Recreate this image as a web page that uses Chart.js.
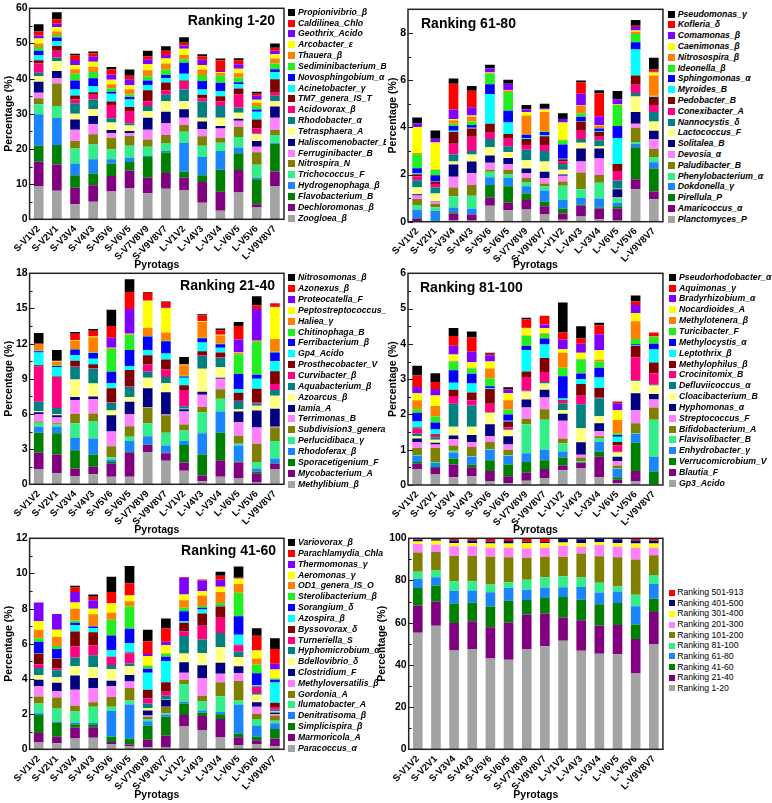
<!DOCTYPE html>
<html><head><meta charset="utf-8">
<script src="https://cdn.jsdelivr.net/npm/chart.js@4.4.1/dist/chart.umd.min.js"></script>
<style>
html,body{margin:0;padding:0;background:#fff;}
#wrap{position:relative;width:772px;height:803px;overflow:hidden;font-family:"Liberation Sans",Arial,sans-serif;}
.pc{position:absolute;}
.lg{position:absolute;overflow:hidden;color:#000;white-space:nowrap;z-index:5;}
.lg .it{position:absolute;left:0;height:11px;}
.lg .sw{position:absolute;left:0;}
.lg .tx{position:absolute;top:0;line-height:11px;}
</style></head><body><div id="wrap"></div>
<script>
const categories = ['S-V1V2','S-V2V1','S-V3V4','S-V4V3','S-V5V6','S-V6V5','S-V7V8V9','S-V9V8V7','L-V1V2','L-V4V3','L-V3V4','L-V6V5','L-V5V6','L-V9V8V7'];

// ---- Ranking 1-20 ----
const p1Names = ['Zoogloea_β','Dechloromonas_β','Flavobacterium_B','Hydrogenophaga_β','Trichococcus_F','Nitrospira_N','Ferruginibacter_B','Haliscomenobacter_B','Tetrasphaera_A','Rhodobacter_α','Acidovorax_β','TM7_genera_IS_T','Acinetobacter_γ','Novosphingobium_α','Sediminibacterium_B','Thauera_β','Arcobacter_ε','Geothrix_Acido','Caldilinea_Chlo','Propionivibrio_β'];
const zoogloea = [9.5, 8.1, 4.3, 5.0, 7.9, 8.8, 7.4, 8.7, 8.2, 4.7, 2.4, 7.6, 3.5, 9.5];
const dechloromonas = [6.9, 7.5, 4.7, 4.7, 4.4, 5.1, 4.4, 4.5, 3.6, 5.9, 5.4, 6.4, 0.8, 4.1];
const flavobacterium = [4.5, 5.5, 3.5, 3.3, 3.6, 2.4, 5.9, 5.8, 1.7, 1.9, 6.3, 4.8, 7.1, 7.9];
const hydrogenophaga = [9.0, 7.7, 3.4, 4.1, 1.2, 1.2, 0.3, 0.4, 8.3, 5.2, 5.3, 1.6, 0.4, 0.3];
const trichococcus = [2.8, 3.4, 4.2, 4.2, 2.8, 3.4, 2.6, 2.3, 3.1, 3.2, 2.4, 3.0, 3.7, 2.2];
const nitrospira = [1.7, 6.4, 2.2, 2.9, 3.3, 2.8, 2.1, 2.3, 1.9, 2.7, 1.4, 2.9, 3.6, 1.5];
const ferruginibacter = [1.6, 1.5, 3.2, 2.8, 1.3, 0.8, 2.8, 3.4, 2.1, 2.0, 2.6, 1.7, 1.5, 3.4];
const haliscomenobacter = [3.1, 2.1, 2.9, 2.4, 0.9, 0.6, 3.4, 3.2, 2.4, 2.2, 0.7, 0.6, 1.7, 3.2];
const tetrasphaera = [1.6, 2.8, 1.6, 1.9, 2.1, 1.6, 1.9, 3.0, 2.3, 1.1, 2.4, 1.7, 1.9, 1.5];
const rhodobacter = [1.0, 1.0, 3.0, 2.8, 1.2, 0.6, 1.4, 1.8, 3.3, 4.6, 3.3, 1.5, 0.2, 1.5];
const acidovorax = [2.6, 1.9, 1.1, 1.3, 3.8, 3.5, 1.4, 1.3, 2.2, 0.9, 1.4, 3.7, 1.5, 0.9];
const tm7 = [0.9, 1.4, 1.1, 0.7, 1.0, 1.1, 3.1, 2.2, 0.4, 1.0, 1.4, 1.7, 2.5, 3.8];
const acinetobacter = [1.5, 1.4, 1.7, 1.8, 2.2, 2.2, 1.5, 1.2, 1.9, 1.5, 1.5, 1.2, 2.2, 2.1];
const novosphingobium = [1.2, 1.0, 2.6, 2.2, 0.6, 0.7, 1.3, 0.9, 3.1, 2.4, 2.3, 0.6, 0.6, 0.8];
const sediminibacterium = [1.1, 0.7, 1.9, 1.8, 1.0, 0.7, 1.2, 1.7, 1.0, 1.7, 2.0, 1.3, 1.0, 1.6];
const thauera = [1.0, 1.0, 1.3, 1.4, 1.1, 1.5, 1.7, 1.6, 1.2, 1.6, 0.8, 1.2, 0.9, 1.4];
const arcobacter = [1.4, 1.3, 1.2, 1.5, 1.3, 1.1, 1.7, 1.4, 1.8, 1.3, 0.3, 1.3, 0.9, 1.2];
const geothrix = [0.9, 1.0, 1.4, 1.4, 1.5, 1.7, 1.4, 1.0, 0.9, 1.5, 0.3, 1.3, 1.1, 1.0];
const caldilinea = [1.1, 1.2, 1.3, 1.0, 1.4, 1.0, 0.9, 1.2, 0.8, 1.0, 3.0, 1.1, 0.6, 0.9];
const propionivibrio = [2.1, 2.0, 0.5, 0.5, 0.7, 1.8, 1.5, 1.3, 1.6, 0.5, 0.5, 0.6, 0.6, 1.2];

// ---- Ranking 61-80 ----
const p2Names = ['Planctomyces_P','Amaricoccus_α','Pirellula_P','Dokdonella_γ','Phenylobacterium_α','Paludibacter_B','Devosia_α','Solitalea_B','Lactococcus_F','Nannocystis_δ','Conexibacter_A','Pedobacter_B','Myroides_B','Sphingomonas_α','Ideonella_β','Nitrosospira_β','Caenimonas_β','Comamonas_β','Kofleria_δ','Pseudomonas_γ'];
const planctomyces = [0.02, 0, 0.05, 0.05, 0.68, 0.5, 0.52, 0.3, 0.08, 0.22, 0.1, 0.05, 1.38, 0.95];
const amaricoccus = [0.12, 0.02, 0.3, 0.25, 0.34, 0.3, 0.4, 0.35, 0.27, 0.46, 0.45, 0.5, 0.42, 0.33];
const pirellula = [0.02, 0.02, 0.05, 0.02, 0.53, 0.7, 0.28, 0.2, 0.2, 0.04, 0.05, 0.1, 1.35, 0.97];
const dokdonella = [0.35, 0.42, 0.2, 0.23, 0.33, 0.35, 0.3, 0.47, 0.37, 0.28, 0.38, 0.15, 0.15, 0.27];
const phenylobacterium = [0.2, 0.15, 0.48, 0.55, 0.24, 0.15, 0.18, 0.18, 0.6, 0.38, 0.67, 0.2, 0.08, 0.2];
const paludibacter = [0.25, 0.15, 0.37, 0.45, 0.08, 0.2, 0.17, 0.12, 0.18, 0.7, 0.33, 0.02, 0.6, 0.36];
const devosia = [0.15, 0.1, 0.45, 0.5, 0.3, 0.25, 0.2, 0.23, 0.25, 0.47, 0.7, 0.03, 0.17, 0.42];
const solitalea = [0.05, 0.02, 0.52, 0.5, 0.3, 0.25, 0.2, 0.27, 0.05, 0.55, 0.42, 0.33, 0.5, 0.35];
const lactococcus = [0.3, 0.32, 0.13, 0.3, 0.35, 0.25, 0.35, 0.43, 0.2, 0.25, 0.1, 0.02, 0.65, 0.4];
const nannocystis = [0.3, 0.25, 0.3, 0.15, 0.35, 0.25, 0.45, 0.45, 0.25, 0.15, 0.25, 0.35, 0.15, 0.4];
const conexibacter = [0.15, 0.15, 0.45, 0.6, 0.3, 0.35, 0.2, 0.25, 0.1, 0.35, 0.15, 0.4, 0.35, 0.3];
const pedobacter = [0.1, 0.1, 0.5, 0.35, 0.35, 0.17, 0.25, 0.37, 0.1, 0.4, 0.2, 0.3, 0.4, 0.33];
const myroides = [0.05, 0.02, 0.05, 0.03, 1.25, 0.48, 0.05, 0.05, 0.02, 0.02, 0.02, 1.1, 1.1, 0.02];
const sphingomonas = [0.2, 0.25, 0.2, 0.12, 0.42, 0.5, 0.13, 0.13, 0.6, 0.18, 0.13, 0.5, 0.3, 0.02];
const ideonella = [0.6, 0.22, 0.1, 0.15, 0.46, 0.8, 0.02, 0.02, 0.18, 0.15, 0.02, 0.9, 0.35, 0.02];
const nitrosospira = [0.05, 0.02, 0.15, 0.2, 0.02, 0.05, 0.8, 0.83, 0.02, 0.3, 0.1, 0.02, 0.1, 0.85];
const caenimonas = [1.1, 1.15, 0.05, 0.05, 0.02, 0.02, 0.15, 0.1, 0.73, 0.02, 0.02, 0.02, 0.05, 0.13];
const comamonas = [0.15, 0.15, 0.4, 0.35, 0.18, 0.28, 0.1, 0.07, 0.15, 0.5, 0.38, 0.2, 0.15, 0.03];
const kofleria = [0, 0, 1.1, 0.7, 0, 0, 0.02, 0, 0, 0.48, 0.97, 0, 0.05, 0.1];
const pseudomonas = [0.25, 0.35, 0.22, 0.2, 0.15, 0.17, 0.18, 0.18, 0.25, 0.08, 0.13, 0.35, 0.25, 0.5];

// ---- Ranking 21-40 ----
const p3Names = ['Methylibium_β','Mycobacterium_A','Sporacetigenium_F','Rhodoferax_β','Perlucidibaca_γ','Subdivision3_genera_IS_V','Terrimonas_B','Iamia_A','Azoarcus_β','Aquabacterium_β','Curvibacter_β','Prosthecobacter_V','Gp4_Acido','Ferribacterium_β','Chitinophaga_B','Haliea_γ','Peptostreptococcus_F','Proteocatella_F','Azonexus_β','Nitrosomonas_β'];
const methylibium = [1.3, 0.95, 0.7, 0.85, 0.65, 0.65, 2.75, 2.0, 1.15, 0.25, 0.65, 0.5, 0.15, 1.3];
const mycobacterium = [1.4, 1.6, 0.65, 0.65, 1.1, 2.05, 0.6, 0.65, 0.7, 0.5, 1.4, 1.35, 0.8, 0.45];
const sporacetigenium = [1.7, 1.8, 1.55, 1.05, 0.15, 0.05, 0.05, 0.05, 1.5, 1.8, 2.35, 0.1, 0.15, 0.05];
const rhodoferax = [0.5, 0.55, 1.05, 1.35, 0.2, 0.95, 0.7, 0.6, 0.35, 1.8, 1.8, 1.35, 0.25, 0.4];
const perlucidibaca = [0.35, 0.2, 1.25, 1.5, 0.2, 0.35, 1.1, 1.1, 0.9, 1.8, 1.1, 0.15, 0.55, 1.5];
const subdivision3 = [0.1, 0.1, 0.8, 0.65, 0.95, 0.9, 1.35, 1.5, 0.5, 0.45, 0.8, 0.7, 1.55, 1.15];
const terrimonas = [0.65, 0.5, 1.2, 1.2, 1.25, 1.05, 0.05, 0.05, 1.1, 1.05, 0.9, 1.15, 1.4, 0.05];
const iamia = [0.15, 0.2, 0.25, 0.25, 1.4, 1.05, 1.6, 1.9, 0.2, 0.25, 0.1, 0.9, 1.45, 1.55];
const azoarcus = [0.1, 0.1, 1.5, 1.1, 0.4, 0.4, 0.9, 0.8, 0.05, 1.95, 0.9, 0.2, 0.4, 1.1];
const aquabacterium = [0.8, 0.5, 1.05, 1.25, 0.65, 0.85, 0.5, 0.5, 0.2, 1.1, 0.8, 0.7, 0.2, 0.5];
const curvibacter = [3.0, 2.6, 0.05, 0.05, 0.05, 0.05, 0.65, 0.65, 1.4, 0.05, 0.05, 0.1, 0.05, 0.5];
const prosthecobacter = [0.1, 0.1, 0.5, 0.35, 1.2, 1.4, 0.75, 0.85, 0.4, 0.35, 0.4, 0.6, 1.2, 1.1];
const gp4Acido = [1.1, 0.8, 0.45, 0.45, 0.45, 0.35, 0.45, 0.5, 0.65, 0.75, 0.4, 0.3, 0.85, 0.85];
const ferribacterium = [0.1, 0.1, 0.5, 0.5, 0.95, 1.35, 1.15, 1.05, 0.1, 0.35, 0.3, 1.3, 0.35, 0.75];
const chitinophaga = [0.05, 0.05, 0.05, 0.05, 1.95, 1.3, 0.05, 0.05, 0.05, 0.05, 0.05, 1.7, 2.8, 0.05];
const haliea = [0.6, 0.3, 0.7, 1.3, 0.05, 0.05, 0.7, 0.7, 0.9, 1.35, 0.7, 0.1, 0.05, 1.1];
const peptostreptococcus = [0, 0.05, 0.05, 0.05, 0.05, 0.05, 2.3, 2.1, 0.05, 0.05, 0.05, 0.05, 0.05, 2.7];
const proteocatella = [0, 0, 0, 0, 0.85, 2.1, 0.05, 0.05, 0, 0, 0, 1.1, 2.7, 0.05];
const azonexus = [0, 0.05, 0.55, 0.5, 1.0, 1.45, 0.65, 0.45, 0.05, 0.5, 0.4, 1.15, 0.3, 0.3];
const nitrosomonas = [0.9, 0.9, 0.15, 0.15, 1.4, 1.1, 0.05, 0.05, 0.6, 0.1, 0.15, 0.35, 0.8, 0];

// ---- Ranking 81-100 ----
const p4Names = ['Gp3_Acido','Blautia_F','Verrucomicrobium_V','Enhydrobacter_γ','Flavisolibacter_B','Bifidobacterium_A','Streptococcus_F','Hyphomonas_α','Cloacibacterium_B','Defluviicoccus_α','Crocinitomix_B','Methylophilus_β','Leptothrix_β','Methylocystis_α','Turicibacter_F','Methylotenera_β','Nocardioides_A','Bradyrhizobium_α','Aquimonas_γ','Pseudorhodobacter_α'];
const gp3Acido = [0.45, 0.3, 0.22, 0.25, 0.1, 0.05, 0.12, 0.2, 0.42, 0.48, 0.22, 0.05, 0.1, 0.02];
const blautia = [0.15, 0.18, 0.36, 0.25, 0.3, 0.2, 0.23, 0.25, 0.13, 0.14, 0.58, 0.1, 0.3, 0];
const verrucomicrobium = [0.05, 0.03, 0.17, 0.08, 0.3, 0.33, 0.3, 0.25, 0.23, 0.02, 0.15, 0.07, 0.8, 0.36];
const enhydrobacter = [0.17, 0.11, 0.17, 0.22, 0.3, 0.24, 0.25, 0.3, 0.17, 0.02, 0.27, 0.23, 0.25, 0.42];
const flavisolibacter = [0.03, 0.03, 0.05, 0.02, 0.02, 0.02, 0.82, 0.85, 0.23, 0.02, 0.1, 0.02, 0.02, 1.05];
const bifidobacterium = [0.2, 0.4, 0.15, 0.26, 0.2, 0.16, 0.16, 0.3, 0.14, 0.1, 0.06, 0.08, 0.28, 0.35];
const streptococcus = [0.17, 0.1, 0.18, 0.14, 0.16, 0.15, 0.32, 0.33, 0.5, 0.08, 0.14, 0.13, 0.37, 0.22];
const hyphomonas = [0.1, 0.05, 0.1, 0.2, 0.34, 0.23, 0.22, 0.22, 0.2, 0.35, 0.23, 0.12, 0.48, 0.16];
const cloacibacterium = [0.06, 0.08, 0.25, 0.23, 0.33, 0.17, 0.23, 0.18, 0.1, 0.4, 0.2, 0.12, 0.35, 0.24];
const defluviicoccus = [0.07, 0.07, 0.65, 0.6, 0.02, 0.02, 0.02, 0.04, 0.18, 0.68, 0.5, 0.02, 0.02, 0.02];
const crocinitomix = [0.15, 0.07, 0.22, 0.15, 0.23, 0.07, 0.37, 0.28, 0.08, 0.24, 0.02, 0.18, 0.65, 0.33];
const methylophilus = [0.03, 0.02, 0.18, 0.22, 0.42, 0.16, 0.18, 0.4, 0.02, 0.33, 0.28, 0.1, 0.33, 0.3];
const leptothrix = [0.17, 0.13, 0.2, 0.26, 0.02, 0.02, 0.6, 0.38, 0.05, 0.14, 0.3, 0.15, 0.02, 0.37];
const methylocystis = [0.25, 0.2, 0.35, 0.27, 0.06, 0.18, 0.12, 0.17, 0.63, 0.16, 0.27, 0.05, 0.02, 0.16];
const turicibacter = [0.1, 0.17, 0.25, 0.15, 0.22, 0.14, 0.28, 0.13, 0.24, 0.4, 0.18, 0.05, 0.15, 0.2];
const methylotenera = [0.25, 0.3, 0.02, 0.02, 0.28, 0.26, 0.02, 0.02, 0.43, 0.02, 0.05, 0.37, 0.5, 0.02];
const nocardioides = [0.2, 0.3, 0.18, 0.16, 0.2, 0.2, 0.2, 0.15, 0.1, 0.17, 0.27, 0.28, 0.23, 0];
const bradyrhizobium = [0.18, 0.18, 0.25, 0.3, 0.18, 0.1, 0.02, 0.1, 0.27, 0.25, 0.45, 0.2, 0.23, 0];
const aquimonas = [0.32, 0.2, 0.27, 0.4, 0.04, 0.02, 0.23, 0.25, 0.2, 0.15, 0.25, 0.05, 0.1, 0.1];
const pseudorhodobacter = [0.28, 0.25, 0.23, 0.17, 0.03, 0.05, 0.05, 0, 0.85, 0.35, 0.08, 0, 0.17, 0];

// ---- Ranking 41-60 ----
const p5Names = ['Paracoccus_α','Marmoricola_A','Simplicispira_β','Denitratisoma_β','Ilumatobacter_A','Gordonia_A','Methyloversatilis_β','Clostridium_F','Bdellovibrio_δ','Hyphomicrobium_α','Turneriella_S','Byssovorax_δ','Azospira_β','Sorangium_δ','Sterolibacterium_β','OD1_genera_IS_O','Aeromonas_γ','Thermomonas_γ','Parachlamydia_Chla','Variovorax_β'];
const paracoccus = [0.38, 0.35, 0.62, 0.65, 0.3, 0.18, 0.12, 0.1, 1.3, 1.1, 0.7, 0.25, 0.3, 0.18];
const marmoricola = [0.54, 0.37, 0.6, 0.6, 0.12, 0.1, 0.43, 0.68, 0.65, 0.8, 1.02, 0.43, 0.22, 0.44];
const simplicispira = [1.03, 0.8, 0.2, 0.17, 0.3, 0.34, 0.8, 1.07, 0.65, 0.18, 0.28, 0.22, 0.2, 0.53];
const denitratisoma = [0.1, 0.06, 0.1, 0.08, 1.46, 1.93, 0.25, 0.13, 0.1, 0.12, 0.12, 1.65, 0.63, 0.33];
const ilumatobacter = [0.55, 0.77, 0.63, 0.92, 0.24, 0.23, 0.12, 0.07, 1.02, 0.52, 0.9, 0.23, 0.37, 0.14];
const gordonia = [0.4, 0.6, 0.33, 0.26, 0.56, 0.7, 0.13, 0.35, 0.23, 0.33, 0.8, 1.1, 0.3, 0.3];
const methyloversatilis = [0.6, 0.35, 0.9, 0.8, 0.6, 0.37, 0.07, 0.02, 0.4, 1.0, 0.48, 0.44, 0.4, 0.08];
const clostridium = [0.35, 0.48, 0.82, 0.57, 0.32, 0.37, 0.28, 0.38, 0.6, 0.73, 0.62, 0.4, 0.26, 0.1];
const bdellovibrio = [0.27, 0.32, 0.52, 0.63, 0.65, 0.5, 0.15, 0.02, 0.5, 0.7, 0.9, 0.53, 0.42, 0.05];
const hyphomicrobium = [0.4, 0.4, 0.5, 0.67, 0.25, 0.16, 0.25, 0.22, 1.0, 0.77, 0.8, 0.3, 0.1, 0.1];
const turneriella = [0.2, 0.1, 0.63, 0.57, 0.45, 0.57, 0.3, 0.23, 0.27, 0.77, 0.9, 0.37, 0.35, 0.15];
const byssovorax = [0.63, 0.55, 0.85, 0.73, 0.02, 0.05, 0.48, 0.55, 0.48, 0.7, 0.6, 0.02, 0.02, 0.25];
const azospira = [0.02, 0.02, 0.35, 0.23, 0.37, 0.55, 0.97, 1.2, 0.08, 0.23, 0.02, 0.58, 0.07, 1.15];
const sorangium = [0.65, 0.53, 0.15, 0.1, 0.83, 0.8, 0.23, 0.25, 0.57, 0.1, 0.02, 1.05, 0.68, 0.15];
const sterolibacterium = [0.2, 0.18, 0.12, 0.02, 0.9, 1.27, 0.17, 0.17, 0.2, 0.1, 0.16, 1.33, 0.5, 0.07];
const od1Genera = [0.48, 0.5, 0.68, 0.68, 0.4, 0.3, 0.02, 0.02, 0.43, 0.6, 0.62, 0.5, 0.35, 0.02];
const aeromonas = [0.5, 0.42, 0.35, 0.32, 0.53, 0.33, 0.53, 0.46, 0.32, 0.25, 0.3, 0.3, 0.45, 0.5];
const thermomonas = [1.05, 0.9, 0.6, 0.48, 0.02, 0.02, 0.12, 0.2, 0.95, 0.6, 0.4, 0.02, 0.02, 0.33];
const parachlamydia = [0, 0, 0.25, 0.2, 0.62, 0.67, 0.73, 0.77, 0.05, 0.05, 0.23, 0.04, 0.82, 0.83];
const variovorax = [0, 0, 0.1, 0.12, 0.88, 0.98, 0.65, 0.55, 0, 0, 0.23, 0.63, 0.43, 0.62];

// ---- Overall ranking groups ----
const p6Names = ['Ranking 1-20','Ranking 21-40','Ranking 41-60','Ranking 61-80','Ranking 81-100','Ranking 101-200','Ranking 201-300','Ranking 301-400','Ranking 401-500','Ranking 501-913'];
const rank1to20 = [55.2, 58.5, 46.8, 47.5, 43.0, 42.5, 47.5, 48.8, 51.5, 46.7, 45.3, 45.0, 36.2, 49.7];
const rank21to40 = [12.8, 11.4, 13.0, 13.2, 14.9, 17.5, 16.4, 15.5, 10.9, 14.5, 13.3, 13.9, 16.1, 15.4];
const rank41to60 = [8.4, 7.7, 9.3, 8.8, 9.8, 10.4, 6.8, 7.4, 9.8, 9.7, 10.1, 10.4, 6.9, 6.3];
const rank61to80 = [4.4, 3.9, 6.1, 5.8, 6.7, 6.0, 4.9, 5.0, 4.6, 6.0, 5.6, 5.5, 8.6, 6.9];
const rank81to100 = [3.4, 3.2, 4.5, 4.4, 3.7, 2.8, 4.7, 4.8, 5.2, 4.5, 4.6, 2.4, 5.4, 4.3];
const rank101to200 = [9.1, 8.8, 12.0, 12.0, 13.1, 11.8, 10.5, 9.7, 9.2, 11.4, 12.6, 13.8, 16.8, 9.4];
const rank201to300 = [4.0, 3.5, 4.5, 4.5, 4.3, 4.5, 4.4, 4.3, 5.3, 3.2, 5.3, 5.0, 5.5, 3.5];
const rank301to400 = [1.2, 1.8, 1.6, 1.6, 2.0, 2.0, 2.6, 2.3, 1.5, 1.8, 1.5, 1.8, 2.0, 2.0];
const rank401to500 = [0.8, 0.8, 1.2, 1.2, 1.0, 1.2, 0.6, 0.5, 1.8, 1.8, 1.5, 1.8, 1.5, 1.3];
const rank501to913 = [0.7, 0.4, 1.0, 1.0, 1.5, 1.3, 1.6, 1.7, 0.2, 0.4, 0.2, 0.4, 1.0, 1.2];

const palette20 = ['#A3A3A3','#800080','#008000','#1A85FF','#33EE88','#808000','#FF80FF','#000080','#FFFF80','#008080','#FF0080','#800000','#00FFFF','#0000FF','#22EE22','#FF8000','#FFFF00','#8000FF','#FF0000','#000000'];
const palette10 = ['#A3A3A3','#800080','#008000','#1A85FF','#33EE88','#808000','#FF80FF','#FFFF00','#000080','#FF0000'];

const FONT = '"Liberation Sans", Arial, sans-serif';
const wrap = document.getElementById('wrap');

const frameDeco = {
  id: 'frameDeco',
  afterDatasetsDraw(chart, args, o) {
    const {ctx, chartArea: a} = chart;
    const y = chart.scales.y;
    ctx.save();
    ctx.strokeStyle = '#1a1a1a';
    ctx.lineWidth = 1;
    const n = Math.round(o.max / o.minor);
    for (let k = 0; k <= n; k++) {
      const v = k * o.minor;
      const py = Math.round(y.getPixelForValue(v)) + 0.5;
      const major = Math.abs(v / o.step - Math.round(v / o.step)) < 1e-6;
      const len = major ? 5 : 3;
      ctx.beginPath(); ctx.moveTo(a.left, py); ctx.lineTo(a.left + len, py); ctx.stroke();
    }
    ctx.lineWidth = 1.5;
    ctx.strokeStyle = '#222';
    ctx.strokeRect(a.left, a.top, a.width, a.height);
    if (o.title) {
      ctx.fillStyle = '#000';
      ctx.font = 'bold 14px ' + FONT;
      ctx.textBaseline = 'alphabetic';
      if (o.side === 'right') { ctx.textAlign = 'right'; ctx.fillText(o.title, a.right - o.tx, a.top + o.ty); }
      else { ctx.textAlign = 'left'; ctx.fillText(o.title, a.left + o.tx, a.top + o.ty); }
    }
    ctx.restore();
  }
};

function makePanel(p) {
  const holder = document.createElement('div');
  holder.className = 'pc';
  holder.style.left = p.left + 'px'; holder.style.top = p.top + 'px';
  holder.style.width = p.w + 'px'; holder.style.height = p.h + 'px';
  const cv = document.createElement('canvas');
  cv.width = p.w; cv.height = p.h;
  cv.style.width = p.w + 'px'; cv.style.height = p.h + 'px';
  holder.appendChild(cv);
  wrap.appendChild(holder);
  const datasets = p.series.map((d, i) => ({
    label: p.names[i], data: d, backgroundColor: p.colors[i],
    borderWidth: 0, barPercentage: 0.53, categoryPercentage: 1.0
  }));
  new Chart(cv, {
    type: 'bar',
    data: { labels: categories, datasets },
    plugins: [frameDeco],
    options: {
      responsive: false, animation: false, devicePixelRatio: 1,
      layout: { padding: { top: p.padTop, right: p.padRight, left: 0, bottom: 0 } },
      plugins: {
        legend: { display: false }, tooltip: { enabled: false },
        frameDeco: { max: p.max, step: p.step, minor: p.minor, title: p.title, side: p.side, tx: p.tx, ty: p.ty }
      },
      scales: {
        x: {
          stacked: true,
          grid: { display: false, drawTicks: false }, border: { display: false },
          ticks: { maxRotation: 45, minRotation: 45, autoSkip: false, padding: 4, color: '#000',
                   font: { family: FONT, size: 9.5, weight: 'bold' } },
          title: { display: true, text: 'Pyrotags', color: '#000',
                   font: { family: FONT, size: 10.5, weight: 'bold' }, padding: { top: 0, bottom: 2 } },
          afterFit: s => { s.height = p.xH; }
        },
        y: {
          stacked: true, min: 0, max: p.max,
          grid: { display: false, drawTicks: false }, border: { display: false },
          ticks: { stepSize: p.step, padding: 2, color: '#000',
                   font: { family: FONT, size: 10.5, weight: 'bold' } },
          afterBuildTicks: s => { s.ticks = s.ticks.filter(t => Math.abs(t.value / p.step - Math.round(t.value / p.step)) < 1e-6); },
          title: { display: true, text: 'Percentage (%)', color: '#000',
                   font: { family: FONT, size: 10.5, weight: 'bold' }, padding: { top: p.yTitlePad, bottom: 0 } },
          afterFit: s => { s.width = p.yW; }
        }
      }
    }
  });
  // legend (top item = last series)
  const lg = document.createElement('div');
  lg.className = 'lg';
  lg.style.left = p.lg.x + 'px';
  lg.style.top = (p.lg.y0 - 5.5) + 'px';
  lg.style.width = (p.lg.clip - p.lg.x) + 'px';
  lg.style.height = (p.lg.step * p.names.length + 4) + 'px';
  lg.style.font = p.lg.font;
  const n = p.names.length;
  for (let k = 0; k < n; k++) {
    const i = n - 1 - k;
    const it = document.createElement('div');
    it.className = 'it';
    it.style.top = (k * p.lg.step) + 'px';
    it.style.width = '200px';
    const sw = document.createElement('div');
    sw.className = 'sw';
    sw.style.width = p.lg.sw + 'px'; sw.style.height = p.lg.sh + 'px';
    sw.style.top = (5.5 - p.lg.sh / 2) + 'px';
    sw.style.background = p.colors[i];
    const tx = document.createElement('div');
    tx.className = 'tx';
    tx.style.left = p.lg.tx + 'px';
    tx.textContent = p.names[i];
    it.appendChild(sw); it.appendChild(tx);
    lg.appendChild(it);
  }
  wrap.appendChild(lg);
}

const legFont = 'italic bold 8.7px ' + FONT;

makePanel({ left: 0, top: 0, w: 290, h: 273, padTop: 8.3, padRight: 6, yW: 29.6, xH: 53.7, yTitlePad: 3,
  max: 60, step: 10, minor: 5, title: 'Ranking 1-20', side: 'right', tx: 9, ty: 16.7,
  names: p1Names, colors: palette20,
  series: [zoogloea, dechloromonas, flavobacterium, hydrogenophaga, trichococcus, nitrospira, ferruginibacter, haliscomenobacter, tetrasphaera, rhodobacter, acidovorax, tm7, acinetobacter, novosphingobium, sediminibacterium, thauera, arcobacter, geothrix, caldilinea, propionivibrio],
  lg: { x: 287.5, y0: 12.3, step: 10.83, clip: 386, sw: 7.5, sh: 7, tx: 10.5, font: legFont } });

makePanel({ left: 386, top: 0, w: 280, h: 273, padTop: 9.3, padRight: 3, yW: 22, xH: 51.3, yTitlePad: 0.7,
  max: 9, step: 2, minor: 1, title: 'Ranking 61-80', side: 'left', tx: 13, ty: 19,
  names: p2Names, colors: palette20,
  series: [planctomyces, amaricoccus, pirellula, dokdonella, phenylobacterium, paludibacter, devosia, solitalea, lactococcus, nannocystis, conexibacter, pedobacter, myroides, sphingomonas, ideonella, nitrosospira, caenimonas, comamonas, kofleria, pseudomonas],
  lg: { x: 667.7, y0: 14, step: 10.8, clip: 772, sw: 7.5, sh: 7, tx: 10, font: legFont } });

makePanel({ left: 0, top: 265, w: 290, h: 273, padTop: 8.3, padRight: 6, yW: 29.6, xH: 53.7, yTitlePad: 3,
  max: 18, step: 3, minor: 1.5, title: 'Ranking 21-40', side: 'right', tx: 9, ty: 16.7,
  names: p3Names, colors: palette20,
  series: [methylibium, mycobacterium, sporacetigenium, rhodoferax, perlucidibaca, subdivision3, terrimonas, iamia, azoarcus, aquabacterium, curvibacter, prosthecobacter, gp4Acido, ferribacterium, chitinophaga, haliea, peptostreptococcus, proteocatella, azonexus, nitrosomonas],
  lg: { x: 287.5, y0: 277.7, step: 10.87, clip: 386, sw: 7.5, sh: 7, tx: 10.5, font: legFont } });

makePanel({ left: 386, top: 265, w: 280, h: 273, padTop: 8.3, padRight: 3, yW: 22, xH: 53, yTitlePad: 0.7,
  max: 6, step: 1, minor: 0.5, title: 'Ranking 81-100', side: 'left', tx: 12, ty: 18.4,
  names: p4Names, colors: palette20,
  series: [gp3Acido, blautia, verrucomicrobium, enhydrobacter, flavisolibacter, bifidobacterium, streptococcus, hyphomonas, cloacibacterium, defluviicoccus, crocinitomix, methylophilus, leptothrix, methylocystis, turicibacter, methylotenera, nocardioides, bradyrhizobium, aquimonas, pseudorhodobacter],
  lg: { x: 668.5, y0: 277.3, step: 10.84, clip: 772, sw: 7.5, sh: 7, tx: 10.5, font: legFont } });

makePanel({ left: 0, top: 530, w: 290, h: 273, padTop: 8.3, padRight: 6, yW: 29.6, xH: 53.7, yTitlePad: 3,
  max: 12, step: 2, minor: 1, title: 'Ranking 41-60', side: 'right', tx: 8, ty: 16.7,
  names: p5Names, colors: palette20,
  series: [paracoccus, marmoricola, simplicispira, denitratisoma, ilumatobacter, gordonia, methyloversatilis, clostridium, bdellovibrio, hyphomicrobium, turneriella, byssovorax, azospira, sorangium, sterolibacterium, od1Genera, aeromonas, thermomonas, parachlamydia, variovorax],
  lg: { x: 287.5, y0: 542.7, step: 10.82, clip: 386, sw: 7.5, sh: 7, tx: 10.5, font: legFont } });

makePanel({ left: 376, top: 530, w: 290, h: 273, padTop: 8.3, padRight: 3, yW: 32.7, xH: 53.7, yTitlePad: 0,
  max: 100, step: 20, minor: 10, title: '', side: 'left', tx: 0, ty: 0,
  names: p6Names, colors: palette10,
  series: [rank1to20, rank21to40, rank41to60, rank61to80, rank81to100, rank101to200, rank201to300, rank301to400, rank401to500, rank501to913],
  lg: { x: 668.7, y0: 592.7, step: 10.62, clip: 772, sw: 6, sh: 6, tx: 8.5, font: '8.7px ' + FONT } });
</script></body></html>
